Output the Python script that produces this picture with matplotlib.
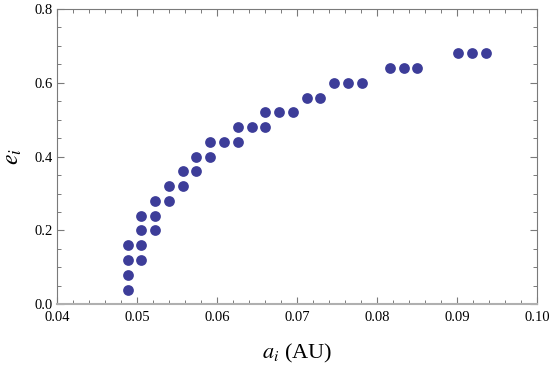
import matplotlib
matplotlib.use("Agg")
from matplotlib import pyplot as plt
from matplotlib.ticker import MultipleLocator

# semi-major axis a_i (AU) and eccentricity e_i, read row by row
a_i = [0.0488,
       0.0488,
       0.0488, 0.0505,
       0.0488, 0.0505,
       0.0505, 0.0522,
       0.0505, 0.0522,
       0.0522, 0.0540,
       0.0540, 0.0557,
       0.0557, 0.0573,
       0.0573, 0.0591,
       0.0591, 0.0608, 0.0626,
       0.0626, 0.0643, 0.0660,
       0.0660, 0.0677, 0.0695,
       0.0712, 0.0729,
       0.0746, 0.0763, 0.0781,
       0.0816, 0.0833, 0.0850,
       0.0901, 0.0919, 0.0936]
e_i = [0.04,
       0.08,
       0.12, 0.12,
       0.16, 0.16,
       0.20, 0.20,
       0.24, 0.24,
       0.28, 0.28,
       0.32, 0.32,
       0.36, 0.36,
       0.40, 0.40,
       0.44, 0.44, 0.44,
       0.48, 0.48, 0.48,
       0.52, 0.52, 0.52,
       0.56, 0.56,
       0.60, 0.60, 0.60,
       0.64, 0.64, 0.64,
       0.68, 0.68, 0.68]

plt.rcParams['font.family'] = 'serif'
plt.rcParams['font.serif'] = ['Liberation Serif', 'DejaVu Serif']
plt.rcParams['mathtext.fontset'] = 'stix'

fig = plt.figure(figsize=(5.53, 3.66), dpi=100)
ax = fig.add_axes([0.1036, 0.1686, 0.868, 0.8068])

ax.scatter(a_i, e_i, s=60, color='#3d3d99', linewidths=0, zorder=3)

ax.set_xlim(0.04, 0.10)
ax.set_ylim(0.0, 0.8)
ax.xaxis.set_major_locator(MultipleLocator(0.01))
ax.xaxis.set_minor_locator(MultipleLocator(0.002))
ax.yaxis.set_major_locator(MultipleLocator(0.2))
ax.yaxis.set_minor_locator(MultipleLocator(0.05))
ax.set_xticklabels([f"{v:.2f}" for v in ax.get_xticks()])
ax.set_yticklabels([f"{v:.1f}" for v in ax.get_yticks()])

ax.tick_params(which='both', direction='in', top=True, right=True,
               color='#7a7a7a', labelsize=10.5)
ax.tick_params(axis='x', pad=5)
ax.tick_params(axis='y', pad=3)
ax.tick_params(which='major', length=5, width=0.8)
ax.tick_params(which='minor', length=3, width=0.7)

for side in ['left', 'right', 'top']:
    ax.spines[side].set_color('#7a7a7a')
    ax.spines[side].set_linewidth(0.8)
ax.spines['bottom'].set_color('#b0b0b0')
ax.spines['bottom'].set_linewidth(1.5)

ax.set_xlabel(r'$a_i$ (AU)', fontsize=16, labelpad=13)
ax.set_ylabel(r'$e_i$', fontsize=17, labelpad=8)

fig.savefig('out.png', dpi=100)
